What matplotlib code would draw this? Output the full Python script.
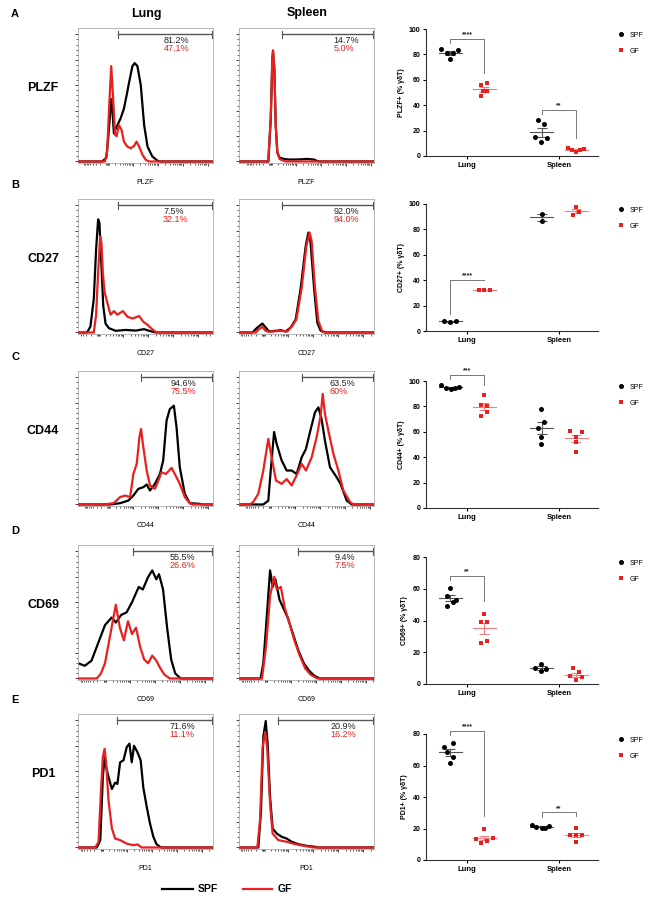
import matplotlib
matplotlib.use("Agg")
import matplotlib.pyplot as plt
import numpy as np
from matplotlib.lines import Line2D

plt.rcParams['font.family'] = ['Liberation Sans', 'DejaVu Sans']

# ---------------- data ----------------
markers = ['PLZF', 'CD27', 'CD44', 'CD69', 'PD1']
tissues = ['Lung', 'Spleen']
groups = ['SPF', 'GF']

# flow histograms: (position %, height %)
plzf_lung_spf = [(18,0),(21,3),(22.5,20),(24.6,49),(25.5,40),(26.6,22),(28,26),(29.4,29),(31.6,34),(34,41.5),(36,52),(37.8,62),(40.3,75),(42,77.4),(44,75),(46.5,60),(49,28.6),(51.5,11.7),(55,4),(59,0.5),(61,0)]
plzf_lung_gf = [(20,0),(21.6,8),(22.9,39),(24.6,75),(25.9,52),(27.4,21),(28.6,20),(30.3,28.6),(32.3,24.7),(34,15.6),(36.6,11.7),(39,10.4),(41.5,12.2),(43.3,15.6),(45.3,11.7),(47.8,5.2),(50.2,1.3),(52.7,0)]
plzf_spleen_spf = [(21.7,0),(23.5,33),(24.7,80),(25.2,86),(26.2,72),(27.2,28),(28.4,7),(30.1,3),(33.3,2),(37,1.5),(44.4,1.6),(50.6,2),(55.6,1.5),(58,0.3),(60,0)]
plzf_spleen_gf = [(21.7,0),(23.5,34),(24.7,81),(25.2,87.5),(26.2,73),(27.2,29),(28.4,7),(30.1,1.8),(33.3,0.5),(35,0)]

cd27_lung_spf = [(6.7,0),(9.2,4.6),(11.7,26.5),(13.4,65),(14.9,89),(15.9,86),(17.4,52),(18.7,21),(20.4,7),(22.9,3.4),(27.9,1.3),(35.3,2),(42.8,1.5),(49,2.6),(52.7,1.3),(56.5,0.3),(58,0)]
cd27_lung_gf = [(11.7,0),(13.4,13.7),(14.9,47),(16.4,75.5),(17.4,70),(18.4,47),(19.7,31.7),(21.6,24),(24.1,14),(26.6,16.8),(29.1,14),(33.3,16.8),(36.6,12.4),(40.3,11),(45.3,12.9),(48.3,8.5),(51.5,6),(54.7,2.8),(57.7,0.3),(59,0)]
cd27_spleen_spf = [(9.9,0),(13.6,3.9),(17.3,7),(19.8,3.9),(22.2,0.8),(27.2,1.3),(30.9,1.8),(34.6,0.8),(38.3,3.9),(42,10.3),(45.7,34.8),(49.4,68),(51.4,78.6),(53,71),(55.6,34.8),(58,7.7),(60.5,1.3),(64.2,0)]
cd27_spleen_gf = [(12.3,0),(14.8,2.6),(17.3,4.4),(19.8,1.3),(22.2,0.5),(30.9,1.3),(35.8,0.8),(39.5,5.2),(42.5,10.3),(46.4,34.8),(49.9,68),(52.3,78.6),(53.8,72),(56.3,34.8),(58.8,9),(61.7,0.8),(63,0)]

cd44_lung_spf = [(23.8,0),(31.2,1),(37.3,3.1),(41,7),(44.7,12.3),(48.4,13.6),(50.9,15.7),(53.3,11),(57,16.2),(60.7,24),(63.1,34.6),(65.6,66),(68,75),(71,77.7),(73,60.7),(75.4,29.3),(79.1,8.4),(82.8,1),(90,0.5),(92,0)]
cd44_lung_gf = [(18.9,0),(26.3,1),(31.2,5.8),(34.9,7),(38.6,5.8),(41,24),(43.5,32),(45.5,53),(46.7,59.4),(48.4,45),(50.9,26.7),(53.3,15),(57,12.3),(59.5,18.8),(61.9,25.4),(65.1,24),(69.3,28.8),(71.7,24),(75.4,16.2),(79.1,5.8),(82.8,1),(85,0)]
cd44_spleen_spf = [(18,0),(21.7,3),(23.5,26.7),(26,57),(27.9,47.6),(31.6,34.6),(35.3,26.7),(39,26.7),(42.7,24),(46.4,37),(49.6,43.7),(52.6,57),(56.3,72.5),(58.8,76.4),(61.2,67),(63.7,50),(67.4,29.3),(72.3,21.5),(75.3,16),(79.8,3),(83.5,0)]
cd44_spleen_gf = [(8,0),(10.6,2),(14.3,8.4),(18,26.7),(21.7,51.6),(24.2,37),(27.4,18.8),(31.6,16.2),(35.3,20),(39,15),(42.7,22.8),(46.4,32),(49.6,26.7),(53.8,37),(57.5,53),(60.5,70),(62,87),(63.7,71),(66.2,58),(69.9,40),(73.6,26.7),(77.3,11),(82.2,2),(84.7,0)]

cd69_lung_spf = [(0,12),(5,10),(10,14),(15,28),(20,42),(25,48),(28,44),(32,50),(36,52),(40,60),(45,72),(48,70),(52,80),(55,85),(58,78),(60,82),(63,70),(66,40),(69,15),(72,4),(76,0)]
cd69_lung_gf = [(14,0),(17,4),(20,12),(24,35),(28,58),(31,40),(34,30),(37,45),(40,35),(43,40),(46,25),(49,15),(52,12),(55,18),(58,14),(61,8),(64,3),(68,0)]
cd69_spleen_spf = [(16,0),(18,12),(20,40),(23,85),(25,72),(27,78),(30,62),(33,55),(36,48),(40,35),(44,22),(48,12),(52,6),(56,2),(60,0)]
cd69_spleen_gf = [(17,0),(20,25),(23,65),(26,80),(28,70),(31,72),(34,55),(37,45),(41,30),(45,18),(49,8),(53,3),(58,0)]

pd1_lung_spf = [(14,0),(16.5,5.8),(18.4,55.5),(19.7,71),(20.9,63),(22.6,55.5),(25.1,46),(27.5,51),(29.2,50),(31.2,67),(33.7,68.6),(36.1,79),(38.1,81.7),(39.8,67),(41.5,80),(44,75),(46.4,68.6),(48.4,47),(50.9,32),(53.3,19),(55.8,8.4),(58.2,2.6),(60.7,0.5),(62,0)]
pd1_lung_gf = [(12.8,0),(15.2,4.4),(16.9,42),(18.4,71),(19.7,77.7),(20.9,66),(22.6,37),(25.1,15),(27.5,7),(31.2,5.8),(36.1,3),(41,1.8),(44,2.4),(47.2,0)]
pd1_spleen_spf = [(14.3,0),(16.3,29),(18,87),(19.8,99.5),(21.2,82),(23,40),(24.9,15),(27.9,11),(31.6,8.4),(35.3,7),(39,4.5),(44,2.6),(50,1.3),(56.3,0.5),(59,0)]
pd1_spleen_gf = [(13.6,0),(15.6,21.5),(17.5,79),(19.5,91),(21,76.4),(23,34.6),(24.9,11),(29.1,5.8),(35.3,4.5),(40.2,3),(45.2,1.8),(52.6,0.5),(55,0)]

# gated percentages (SPF, GF) per marker, per tissue
pct_lung = [('81.2%', '47.1%'), ('7.5%', '32.1%'), ('94.6%', '75.5%'), ('55.5%', '26.6%'), ('71.6%', '11.1%')]
pct_spleen = [('14.7%', '5.0%'), ('92.0%', '94.0%'), ('63.5%', '60%'), ('9.4%', '7.5%'), ('20.9%', '16.2%')]

# summary scatter values (% positive gd T cells)
plzf_lung_spf_pct = [84, 81, 81, 83.5, 76]
plzf_lung_gf_pct = [56, 57.5, 51.5, 51, 47]
plzf_spleen_spf_pct = [28, 25, 15, 14, 11]
plzf_spleen_gf_pct = [6, 5, 3, 5, 5.5]

cd27_lung_spf_pct = [8, 7, 7.5]
cd27_lung_gf_pct = [32, 32, 32]
cd27_spleen_spf_pct = [92, 87]
cd27_spleen_gf_pct = [91.5, 97.5, 94]

cd44_lung_spf_pct = [96.6, 94.7, 93.7, 94.2, 95.3]
cd44_lung_gf_pct = [88.7, 81, 80.5, 75.7, 72.6]
cd44_spleen_spf_pct = [77.6, 67.8, 63.3, 56.2, 50.4]
cd44_spleen_gf_pct = [61, 60.2, 56.2, 52, 44.3]

cd69_lung_spf_pct = [60.3, 55.6, 53.1, 51.9, 49.3]
cd69_lung_gf_pct = [44.3, 39.1, 39.1, 26.9, 25.8]
cd69_spleen_spf_pct = [12.8, 10.3, 9.4, 8]
cd69_spleen_gf_pct = [9.9, 7.6, 4.8, 4.6, 2.3]

pd1_lung_spf_pct = [74.1, 71.5, 68.4, 65.6, 61.8]
pd1_lung_gf_pct = [19.7, 13.1, 14.2, 12.1, 10.6]
pd1_spleen_spf_pct = [22.2, 20.7, 20.3, 20.5, 21.4]
pd1_spleen_gf_pct = [20.1, 15.9, 15.9, 15.9, 11.6]

ymax_scatter = [100, 100, 100, 80, 80]
# significance: (tissue index, label)
sig_marks = [[(0, '****'), (1, '**')], [(0, '****')], [(0, '***')], [(0, '**')], [(0, '****'), (1, '**')]]

# ---------------- layout / style ----------------
hist_curves = [
    [(plzf_lung_spf, plzf_lung_gf), (plzf_spleen_spf, plzf_spleen_gf)],
    [(cd27_lung_spf, cd27_lung_gf), (cd27_spleen_spf, cd27_spleen_gf)],
    [(cd44_lung_spf, cd44_lung_gf), (cd44_spleen_spf, cd44_spleen_gf)],
    [(cd69_lung_spf, cd69_lung_gf), (cd69_spleen_spf, cd69_spleen_gf)],
    [(pd1_lung_spf, pd1_lung_gf), (pd1_spleen_spf, pd1_spleen_gf)],
]
scatter_vals = [
    [(plzf_lung_spf_pct, plzf_lung_gf_pct), (plzf_spleen_spf_pct, plzf_spleen_gf_pct)],
    [(cd27_lung_spf_pct, cd27_lung_gf_pct), (cd27_spleen_spf_pct, cd27_spleen_gf_pct)],
    [(cd44_lung_spf_pct, cd44_lung_gf_pct), (cd44_spleen_spf_pct, cd44_spleen_gf_pct)],
    [(cd69_lung_spf_pct, cd69_lung_gf_pct), (cd69_spleen_spf_pct, cd69_spleen_gf_pct)],
    [(pd1_lung_spf_pct, pd1_lung_gf_pct), (pd1_spleen_spf_pct, pd1_spleen_gf_pct)],
]
# horizontal spread of dots inside a column
jitter = [
    [([-0.095, -0.03, 0.03, 0.09, 0], [-0.03, 0.03, -0.01, 0.03, -0.03]),
     ([-0.045, 0.02, -0.075, 0.05, -0.015], [-0.09, -0.045, 0, 0.045, 0.09])],
    [([-0.06, 0, 0.06], [-0.06, 0, 0.06]), ([0, 0], [-0.035, 0, 0.03])],
    [([-0.094, -0.043, 0.007, 0.05, 0.1], [0, -0.03, 0.03, 0.03, -0.03]),
     ([-0.015, 0.02, -0.045, -0.015, -0.015], [-0.06, 0.065, 0, 0, 0])],
    [([0, -0.03, 0.065, 0.03, -0.03], [0, -0.03, 0.03, 0.03, -0.03]),
     ([-0.015, -0.075, 0.045, -0.015], [-0.03, 0.03, -0.06, 0.065, 0])],
    [([0.03, -0.06, -0.03, 0.03, 0], [0, -0.09, 0.1, 0.03, -0.03]),
     ([-0.11, -0.06, 0, 0.035, 0.08], [0, -0.065, 0, 0.065, 0])],
]
zero_pos = [(22, 23.5), (15, 18), (22.6, 23), (20, 20), (17.7, 18)]
gate_start = [(30, 31.6), (30, 32), (46.7, 46.4), (40.7, 43.7), (28.7, 28.6)]
text_x = [(63.4, 70), (63, 70), (68.8, 67), (68, 71), (67.6, 68)]

RED = '#e8201f'
W, H = 667, 900
fig = plt.figure(figsize=(W / 100, H / 100), dpi=100)


def box(x0, y0, x1, y1):
    return [x0 / W, 1 - y1 / H, (x1 - x0) / W, (y1 - y0) / H]


hist_tops = [28, 199, 371, 545, 714]
hist_h = 135
hist_x = [(78, 213), (239, 374)]
sc_tops = [29, 204, 381, 557, 734]
sc_bots = [156, 331, 508, 684, 860]
letters = ['A', 'B', 'C', 'D', 'E']


def hist_panel(ax, spf, gf, z, g, tx, pcts, label):
    for curve, col, zo in [(spf, 'black', 2), (gf, RED, 3)]:
        xs = [p[0] for p in curve]
        ys = [p[1] for p in curve]
        xs = [0] + xs + [100]
        ys = [0] + ys + [0]
        if xs[1] == 0:
            xs, ys = xs[1:], ys[1:]
        ax.plot(xs, ys, color=col, lw=1.6, zorder=zo, solid_joinstyle='round')
    ax.set_xlim(0, 100)
    ax.set_ylim(-1.2, 105)
    # gate bar
    ax.plot([g, 99.3], [100, 100], color='#555555', lw=1.0, zorder=4)
    ax.plot([g, g], [97.5, 102.5], color='#555555', lw=0.8)
    ax.plot([99.3, 99.3], [97.5, 102.5], color='#555555', lw=0.8)
    ax.text(tx, 95, pcts[0], fontsize=6.5, color='#222222', ha='left', va='center')
    ax.text(tx, 88.5, pcts[1], fontsize=6.5, color=RED, ha='left', va='center')
    for s in ax.spines.values():
        s.set_color('#aaaaaa')
        s.set_linewidth(0.6)
    dec = 18.5
    majors = [z + dec * k for k in range(1, 5) if z + dec * k < 100]
    minors = [z + dec * (k + np.log10(m)) for k in range(0, 5) for m in range(2, 10)
              if z + dec * (k + np.log10(m)) < 100]
    minors += [z - dec * np.log10(m) for m in range(2, 10) if z - dec * np.log10(m) > 1]
    minors += [z - 1.0, z - 0.5, z, z + 0.5, z + 1.0]
    ax.set_xticks(majors)
    ax.set_xticks(minors, minor=True)
    ax.set_yticks(np.arange(0, 101, 20))
    ax.set_yticks(np.arange(0, 101, 4), minor=True)
    ax.tick_params(which='major', length=2.5, width=0.7, color='#444444', direction='out',
                   labelbottom=False, labelleft=False)
    ax.tick_params(which='minor', length=1.3, width=0.6, color='#444444', direction='out')
    ax.set_xlabel(label, fontsize=5, labelpad=7)


def scatter_panel(ax, i):
    ymax = ymax_scatter[i]
    for t in range(2):
        for gi, (col, mk, ms, lc) in enumerate([('black', 'o', 3.6, '#555555'), (RED, 's', 3.2, '#f08080')]):
            vals = np.array(scatter_vals[i][t][gi], dtype=float)
            xc = t + 1 + (-0.185 if gi == 0 else 0.185)
            xs = xc + np.array(jitter[i][t][gi])
            m = vals.mean()
            sem = vals.std(ddof=1) / np.sqrt(len(vals))
            ax.plot([xc - 0.125, xc + 0.125], [m, m], color=lc, lw=0.8, zorder=2)
            ax.errorbar([xc], [m], yerr=[sem], color=lc, lw=0.8, capsize=3.5, capthick=0.8,
                        fmt='none', zorder=2)
            ax.plot(xs, vals, mk, color=col, ms=ms, mew=0, zorder=3, clip_on=False)
    for t, lab in sig_marks[i]:
        spf = np.array(scatter_vals[i][t][0], dtype=float)
        gf = np.array(scatter_vals[i][t][1], dtype=float)
        x1, x2 = t + 1 - 0.185, t + 1 + 0.185
        top = max(spf.max(), gf.max()) + 8
        yl = spf.max() + 5
        yr = gf.max() + 8
        ax.plot([x1, x1, x2, x2], [yl, top, top, yr], color='#777777', lw=0.7, clip_on=False)
        ax.text((x1 + x2) / 2, top + ymax * 0.005, lab, fontsize=5, ha='center', va='bottom',
                fontweight='bold', color='#222222')
    ax.set_xlim(0.554, 2.424)
    ax.set_ylim(0, ymax)
    ax.set_xticks([1, 2])
    ax.set_xticklabels(tissues, fontsize=5.5, fontweight='bold')
    ax.set_yticks(np.arange(0, ymax + 1, 20))
    ax.tick_params(axis='y', labelsize=5, length=2.5, width=0.8, pad=1.5)
    ax.tick_params(axis='x', length=2.5, width=0.8, pad=2)
    for lab in ax.get_yticklabels():
        lab.set_fontweight('bold')
    for s in ['top', 'right']:
        ax.spines[s].set_visible(False)
    for s in ['left', 'bottom']:
        ax.spines[s].set_linewidth(0.8)
        ax.spines[s].set_color('#333333')
    ax.set_ylabel(markers[i] + '+ (% γδT)', fontsize=5, fontweight='bold', labelpad=3)
    handles = [Line2D([], [], ls='none', marker='o', color='black', ms=3.6, mew=0),
               Line2D([], [], ls='none', marker='s', color=RED, ms=3.2, mew=0)]
    ax.legend(handles, groups, loc='upper left', bbox_to_anchor=(1.1, 1.0), frameon=False,
              fontsize=5, handlelength=0.8, handletextpad=0.9, labelspacing=1.3, borderaxespad=0)


for i in range(5):
    top = hist_tops[i]
    for t in range(2):
        x0, x1 = hist_x[t]
        ax = fig.add_axes(box(x0, top, x1, top + hist_h))
        spf, gf = hist_curves[i][t]
        pcts = pct_lung[i] if t == 0 else pct_spleen[i]
        hist_panel(ax, spf, gf, zero_pos[i][t], gate_start[i][t], text_x[i][t], pcts, markers[i])
    sax = fig.add_axes(box(426, sc_tops[i], 598, sc_bots[i]))
    scatter_panel(sax, i)
    fig.text(15 / W, 1 - (top - 14) / H, letters[i], fontsize=8, fontweight='bold', ha='center', va='center')
    fig.text(43 / W, 1 - (top + 60) / H, markers[i], fontsize=9, fontweight='bold', ha='center', va='center')

fig.text(146 / W, 1 - 14 / H, 'Lung', fontsize=9, fontweight='bold', ha='center', va='center')
fig.text(307 / W, 1 - 13 / H, 'Spleen', fontsize=9, fontweight='bold', ha='center', va='center')

# bottom legend
fig.add_artist(Line2D([162 / W, 193 / W], [1 - 889 / H] * 2, color='black', lw=1.6))
fig.text(198 / W, 1 - 889 / H, 'SPF', fontsize=7.5, fontweight='bold', va='center')
fig.add_artist(Line2D([243 / W, 272 / W], [1 - 889 / H] * 2, color=RED, lw=1.6))
fig.text(278 / W, 1 - 889 / H, 'GF', fontsize=7.5, fontweight='bold', va='center')

fig.savefig('out.png', dpi=100)
